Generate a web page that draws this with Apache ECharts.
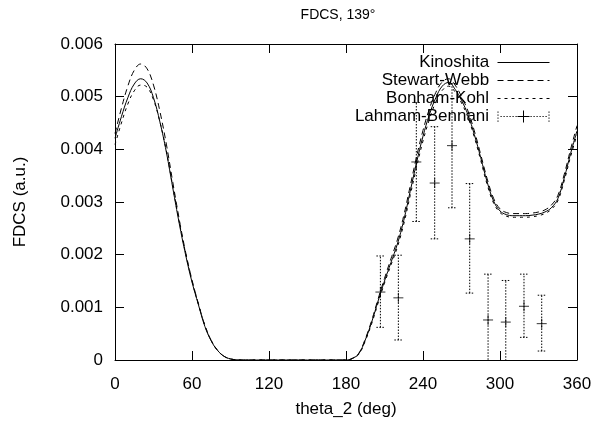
<!DOCTYPE html>
<html>
<head>
<meta charset="utf-8">
<script src="https://cdn.jsdelivr.net/npm/echarts@6/dist/echarts.min.js"></script>
<style>
  html, body { margin: 0; padding: 0; background: #fff; }
  #chart { width: 595px; height: 423px; }
</style>
</head>
<body>
<div id="chart"></div>
<script>
// values are in units of 1e-3
const UNIT = 0.001;
// theta_2 sample grid, 0..360 every 5 deg
const theta = Array.from({ length: 73 }, (_, i) => i * 5);

const kinoshita = [
  4.21, 4.62, 4.98, 5.24, 5.34, 5.26, 4.98, 4.52, 3.95, 3.27, 2.6, 2.0, 1.48, 1.05, 0.64, 0.36, 0.18, 0.07, 0.02, 0.004, 0,
  0, 0, 0, 0, 0, 0, 0, 0, 0, 0, 0, 0, 0, 0, 0,
  0, 0.03, 0.12, 0.38, 0.72, 1.12, 1.5, 1.85, 2.2, 2.65, 3.2, 3.75, 4.25, 4.66, 4.98, 5.2, 5.27, 5.14, 4.93,
  4.66, 4.28, 3.84, 3.38, 3.02, 2.83, 2.76, 2.74, 2.74, 2.74, 2.75, 2.77, 2.81, 2.89, 3.06, 3.45, 3.92, 4.35
];
const stewartWebb = [
  4.3, 4.78, 5.2, 5.5, 5.62, 5.53, 5.22, 4.72, 4.1, 3.38, 2.68, 2.05, 1.52, 1.07, 0.66, 0.37, 0.18, 0.07, 0.02, 0.004, 0,
  0, 0, 0, 0, 0, 0, 0, 0, 0, 0, 0, 0, 0, 0, 0,
  0, 0.03, 0.13, 0.4, 0.75, 1.16, 1.55, 1.92, 2.28, 2.74, 3.3, 3.86, 4.36, 4.77, 5.08, 5.28, 5.34, 5.22, 5.0,
  4.73, 4.35, 3.9, 3.44, 3.07, 2.87, 2.8, 2.78, 2.78, 2.78, 2.79, 2.81, 2.85, 2.94, 3.12, 3.52, 4.0, 4.45
];
const bonhamKohl = [
  4.09, 4.5, 4.86, 5.11, 5.22, 5.18, 4.94, 4.52, 3.97, 3.3, 2.63, 2.03, 1.5, 1.06, 0.66, 0.37, 0.18, 0.07, 0.02, 0.004, 0,
  0, 0, 0, 0, 0, 0, 0, 0, 0, 0, 0, 0, 0, 0, 0,
  0, 0.03, 0.11, 0.36, 0.69, 1.08, 1.46, 1.8, 2.14, 2.58, 3.12, 3.66, 4.16, 4.57, 4.9, 5.12, 5.2, 5.09, 4.88,
  4.61, 4.23, 3.79, 3.33, 2.98, 2.8, 2.73, 2.71, 2.71, 2.71, 2.72, 2.74, 2.78, 2.86, 3.02, 3.4, 3.86, 4.28
];

// Lahmam-Bennani experiment: angle, value, lower, upper
const expTheta = [206.8, 220.8, 234.8, 249.1, 262.6, 276.4, 290.7, 304.5, 318.7, 332.5];
const expValue = [1.29, 1.18, 3.76, 3.36, 4.07, 2.30, 0.76, 0.72, 1.02, 0.69];
const expLow   = [0.62, 0.38, 2.63, 2.30, 2.89, 1.27, -0.11, -0.07, 0.43, 0.17];
const expHigh  = [1.975, 1.99, 4.89, 4.43, 5.25, 3.35, 1.63, 1.51, 1.63, 1.23];

const xTicks = [0, 60, 120, 180, 240, 300, 360];
const yTicks = [0, 0.001, 0.002, 0.003, 0.004, 0.005, 0.006];

const FONT = 'Liberation Sans, Arial, Helvetica, sans-serif';

function pairs(vals) {
  return theta.map((t, i) => [t, vals[i] * UNIT]);
}

const chart = echarts.init(document.getElementById('chart'), null, { renderer: 'canvas' });

const axisCommon = {
  type: 'value',
  axisLine: { show: true, onZero: false, lineStyle: { color: '#000', width: 1 } },
  axisTick: { show: true, inside: true, length: 9, lineStyle: { color: '#000', width: 1 } },
  splitLine: { show: false }
};

// small dotted legend sample with a cross in the middle (52 x 12)
function errIcon() {
  let p = '';
  for (let y = 1; y <= 10; y += 3) {
    p += `M0,${y}h1v1.2h-1Z M51,${y}h1v1.2h-1Z `;
  }
  for (let x = 3; x < 50; x += 3) {
    if (x > 19 && x < 32) continue;
    p += `M${x},5.5h1.2v1h-1.2Z `;
  }
  p += 'M20,5.5h12v1h-12Z M25.5,0h1v12h-1Z';
  return 'path://' + p;
}

const hideSymbol = { color: 'transparent', borderColor: 'transparent', opacity: 0 };

const option = {
  animation: false,
  backgroundColor: '#fff',
  title: {
    text: 'FDCS, 139°',
    left: 333,
    textAlign: 'center',
    top: 3,
    textStyle: { fontFamily: FONT, fontSize: 14, fontWeight: 'normal', color: '#000' }
  },
  grid: { left: 115, right: 18, top: 44, bottom: 57, containLabel: false },
  legend: {
    orient: 'vertical',
    right: 40,
    top: 49,
    align: 'right',
    itemWidth: 52,
    itemHeight: 12,
    itemGap: 1,
    selectedMode: false,
    formatter: n => n + '\u2009',
    textStyle: { fontFamily: FONT, fontSize: 17, color: '#000', lineHeight: 17 },
    data: [
      { name: 'Kinoshita', itemStyle: hideSymbol, lineStyle: { width: 1 } },
      { name: 'Stewart-Webb', itemStyle: hideSymbol, lineStyle: { width: 1 } },
      { name: 'Bonham-Kohl', itemStyle: hideSymbol, lineStyle: { width: 1 } },
      { name: 'Lahmam-Bennani', icon: errIcon(), itemStyle: { color: '#000', borderWidth: 0 } }
    ]
  },
  xAxis: [
    Object.assign({}, axisCommon, {
      min: 0, max: 360, interval: 60,
      name: 'theta_2 (deg)',
      nameLocation: 'middle',
      nameGap: 41,
      nameTextStyle: { fontFamily: FONT, fontSize: 17, color: '#000' },
      axisLabel: {
        fontFamily: FONT, fontSize: 17, color: '#000', margin: 16,
        formatter: v => xTicks.includes(v) ? String(v) : ''
      }
    }),
    Object.assign({}, axisCommon, {
      position: 'top', min: 0, max: 360, interval: 60,
      axisLabel: { show: false }
    })
  ],
  yAxis: [
    Object.assign({}, axisCommon, {
      min: 0, max: 0.006, interval: 0.001,
      name: 'FDCS (a.u.)',
      nameLocation: 'middle',
      nameGap: 86,
      nameTextStyle: { fontFamily: FONT, fontSize: 17, color: '#000' },
      axisLabel: {
        fontFamily: FONT, fontSize: 17, color: '#000', margin: 12,
        formatter: v => {
          const t = yTicks.find(k => Math.abs(k - v) < 1e-9);
          return t === 0 ? '0' : t.toFixed(3);
        }
      }
    }),
    Object.assign({}, axisCommon, {
      position: 'right', min: 0, max: 0.006, interval: 0.001,
      axisLabel: { show: false }
    })
  ],
  series: [
    {
      name: 'Kinoshita', type: 'line', data: pairs(kinoshita),
      symbol: 'none', smooth: 0.4, clip: true,
      color: '#000', lineStyle: { color: '#000', width: 1 }
    },
    {
      name: 'Stewart-Webb', type: 'line', data: pairs(stewartWebb),
      symbol: 'none', smooth: 0.4, clip: true,
      color: '#000', lineStyle: { color: '#000', width: 1, type: [6, 4] }
    },
    {
      name: 'Bonham-Kohl', type: 'line', data: pairs(bonhamKohl),
      symbol: 'none', smooth: 0.4, clip: true,
      color: '#000', lineStyle: { color: '#000', width: 1, type: [3, 4] }
    },
    {
      name: 'Lahmam-Bennani', type: 'custom', clip: true,
      data: expTheta.map((t, i) => [t, expValue[i] * UNIT, expLow[i] * UNIT, expHigh[i] * UNIT]),
      encode: { x: 0, y: [1, 2, 3] },
      renderItem: (params, api) => {
        const lo = api.coord([api.value(0), api.value(2)]);
        const hi = api.coord([api.value(0), api.value(3)]);
        const c = 4;
        const style = { stroke: '#000', lineWidth: 1, lineDash: [1.5, 1.5], fill: null };
        return {
          type: 'group',
          children: [
            { type: 'line', shape: { x1: lo[0], y1: lo[1], x2: hi[0], y2: hi[1] }, style },
            { type: 'line', shape: { x1: lo[0] - c, y1: lo[1], x2: lo[0] + c, y2: lo[1] }, style },
            { type: 'line', shape: { x1: hi[0] - c, y1: hi[1], x2: hi[0] + c, y2: hi[1] }, style }
          ]
        };
      },
      color: '#000'
    },
    {
      name: 'Lahmam-Bennani', type: 'scatter',
      data: expTheta.map((t, i) => [t, expValue[i] * UNIT]),
      symbol: 'path://M0,5L10,5M5,0L5,10',
      symbolSize: 10,
      itemStyle: { color: 'none', borderColor: '#000', borderWidth: 1 },
      color: '#000'
    }
  ]
};

chart.setOption(option);
</script>
</body>
</html>
